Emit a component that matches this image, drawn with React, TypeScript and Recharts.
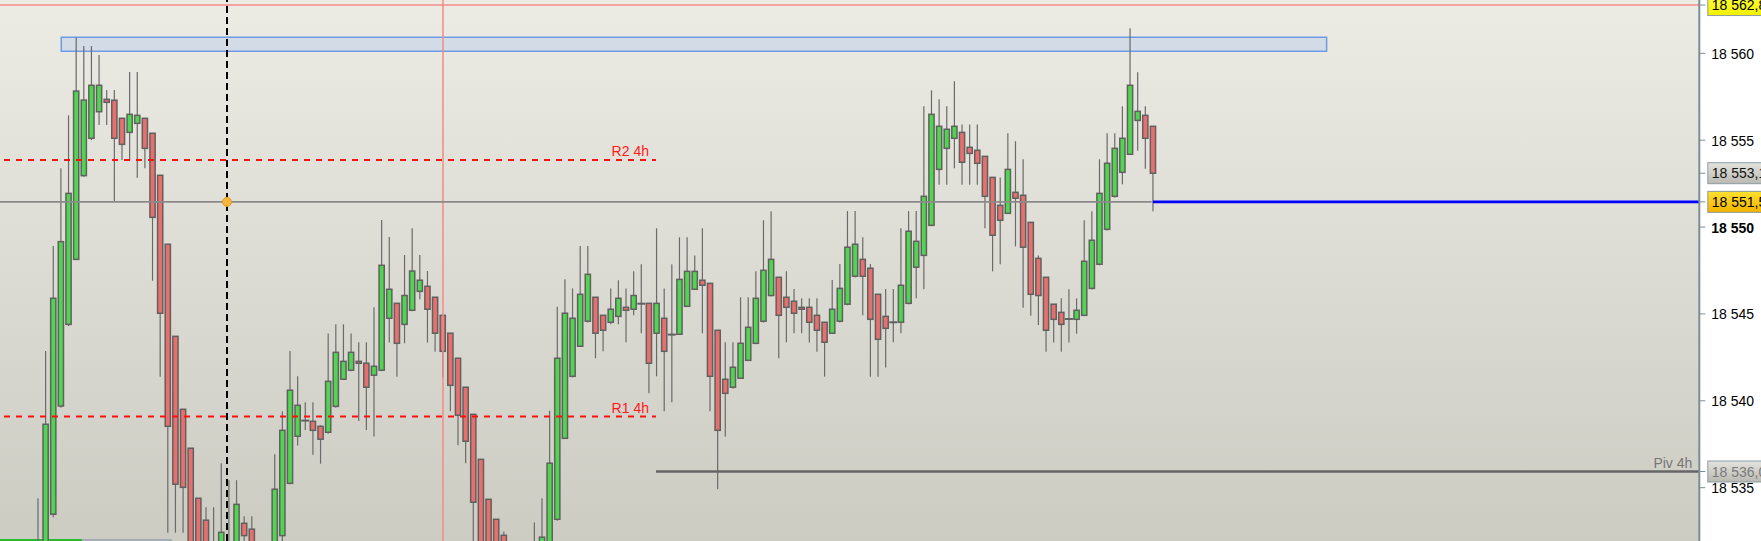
import React from 'react';
import { ComposedChart, Bar, XAxis, YAxis, ReferenceLine, ReferenceArea, ReferenceDot } from 'recharts';

const opens = [
    18529.8, 18530.5, 18533.47, 18539.7, 18544.4, 18548.14, 18552.96, 18555.11, 18556.64, 18557.35,
    18557.3, 18556.26, 18555.45, 18555.97, 18556.26, 18555.4, 18552.98, 18549.01, 18543.71, 18539.51,
    18537.27, 18534.39, 18533.13, 18530.5, 18530.0, 18531.5, 18530.5, 18532.95, 18532.61, 18531.0,
    18530.2, 18531.0, 18532.24, 18535.25, 18537.96, 18538.86, 18538.82, 18538.53, 18538.19, 18539.68,
    18541.24, 18541.76, 18542.27, 18542.16, 18541.47, 18541.76, 18544.75, 18545.61, 18544.4, 18545.21,
    18546.3, 18546.59, 18545.96, 18544.92, 18543.89, 18542.45, 18540.78, 18539.22, 18536.63, 18534.33,
    18533.18, 18532.26, 18531.0, 18529.5, 18528.5, 18529.5, 18530.0, 18531.0, 18533.18, 18537.84,
    18541.41, 18543.14, 18544.58, 18545.96, 18544.92, 18544.52, 18544.86, 18545.38, 18545.27, 18545.59,
    18545.61, 18543.89, 18544.75, 18543.81, 18543.83, 18545.44, 18546.42, 18546.94, 18546.76, 18544.06,
    18541.24, 18540.78, 18541.3, 18542.33, 18543.31, 18544.58, 18546.06, 18547.11, 18545.96, 18545.73,
    18545.38, 18545.38, 18544.92, 18544.52, 18543.89, 18544.58, 18545.56, 18547.17, 18548.14, 18547.63,
    18546.13, 18544.86, 18544.52, 18544.52, 18545.61, 18547.69, 18548.37, 18550.1, 18553.32, 18554.53,
    18555.11, 18555.45, 18554.59, 18554.42, 18554.07, 18552.86, 18551.25, 18550.79, 18552.0, 18551.83,
    18550.27, 18548.2, 18547.11, 18545.56, 18545.09, 18544.71, 18544.69, 18544.92, 18546.47, 18547.86,
    18549.87, 18551.77, 18553.15, 18554.19, 18556.14, 18556.43, 18555.8,
];

const highs = [
    18534.39, 18542.87, 18548.91, 18553.38, 18556.43, 18560.9, 18560.42, 18560.42, 18559.9, 18557.89,
    18557.89, 18556.26, 18558.92, 18558.92, 18556.26, 18555.4, 18552.98, 18549.01, 18543.71, 18539.51,
    18537.27, 18534.39, 18533.87, 18533.87, 18536.41, 18535.43, 18535.43, 18533.35, 18533.35, 18531.8,
    18531.6, 18536.93, 18539.4, 18542.87, 18541.41, 18539.91, 18539.91, 18538.59, 18543.88, 18544.4,
    18544.4, 18543.88, 18543.37, 18543.37, 18545.38, 18550.41, 18549.43, 18545.61, 18548.39, 18549.93,
    18548.39, 18547.47, 18545.96, 18544.92, 18543.89, 18542.45, 18540.78, 18539.22, 18536.63, 18534.33,
    18533.18, 18532.47, 18531.5, 18531.0, 18531.3, 18532.99, 18534.39, 18539.43, 18545.42, 18546.99,
    18546.47, 18548.91, 18548.91, 18545.96, 18544.92, 18546.47, 18546.94, 18546.47, 18547.45, 18547.86,
    18545.61, 18549.93, 18546.47, 18547.86, 18549.41, 18549.41, 18548.37, 18549.93, 18546.76, 18544.06,
    18543.37, 18543.37, 18545.96, 18545.96, 18547.45, 18550.39, 18550.91, 18547.11, 18547.45, 18546.44,
    18545.9, 18545.9, 18545.9, 18544.52, 18546.96, 18547.88, 18550.92, 18550.92, 18549.41, 18547.88,
    18546.13, 18546.44, 18546.44, 18549.93, 18550.92, 18550.92, 18556.95, 18557.87, 18557.35, 18556.95,
    18558.39, 18555.91, 18555.91, 18555.91, 18554.07, 18552.86, 18552.86, 18555.4, 18554.94, 18553.9,
    18550.27, 18548.37, 18547.11, 18545.56, 18545.9, 18546.42, 18545.9, 18550.39, 18550.91, 18553.9,
    18555.4, 18555.4, 18556.95, 18561.44, 18558.91, 18556.95, 18555.8,
];

const lows = [
    18529.0, 18530.0, 18533.3, 18539.6, 18544.3, 18548.1, 18552.9, 18555.0, 18555.87, 18555.87,
    18551.46, 18553.86, 18553.86, 18552.84, 18553.38, 18546.91, 18541.39, 18532.41, 18532.41, 18532.41,
    18529.5, 18529.0, 18529.0, 18528.5, 18529.5, 18529.5, 18530.0, 18531.0, 18530.0, 18529.5,
    18529.0, 18530.5, 18531.5, 18535.2, 18537.42, 18538.32, 18536.9, 18536.38, 18538.1, 18539.6,
    18541.2, 18541.7, 18538.84, 18538.32, 18537.94, 18541.7, 18543.35, 18541.39, 18543.31, 18545.15,
    18545.84, 18543.35, 18542.83, 18541.39, 18539.4, 18537.44, 18536.41, 18531.0, 18529.5, 18529.5,
    18529.0, 18528.5, 18528.0, 18527.5, 18527.5, 18528.5, 18529.5, 18530.5, 18533.1, 18537.8,
    18541.35, 18543.1, 18544.5, 18542.45, 18542.85, 18544.4, 18544.4, 18543.37, 18544.92, 18543.89,
    18540.43, 18541.41, 18539.4, 18539.91, 18543.8, 18545.4, 18546.4, 18543.89, 18539.4, 18534.91,
    18537.94, 18540.7, 18541.25, 18542.3, 18543.25, 18544.5, 18546.0, 18542.45, 18543.37, 18543.89,
    18543.89, 18543.35, 18542.83, 18541.39, 18543.85, 18544.5, 18545.5, 18547.1, 18544.92, 18541.39,
    18541.39, 18541.91, 18543.37, 18543.89, 18545.55, 18545.9, 18546.42, 18550.05, 18552.44, 18552.44,
    18553.38, 18552.44, 18552.44, 18552.44, 18549.93, 18547.45, 18547.86, 18550.75, 18548.89, 18545.36,
    18544.9, 18544.36, 18542.83, 18543.35, 18542.83, 18543.35, 18543.86, 18544.9, 18546.4, 18547.8,
    18549.8, 18551.7, 18552.46, 18554.15, 18554.39, 18553.36, 18550.91,
];

const closes = [
    18531.0, 18538.65, 18545.9, 18549.16, 18551.94, 18557.83, 18557.31, 18558.16, 18558.16, 18557.18,
    18555.11, 18554.76, 18556.49, 18556.43, 18554.53, 18550.56, 18545.04, 18538.53, 18535.2, 18535.02,
    18531.0, 18530.5, 18530.0, 18530.0, 18532.43, 18531.0, 18534.04, 18532.24, 18531.0, 18530.2,
    18531.0, 18534.91, 18538.3, 18540.61, 18539.74, 18538.86, 18538.3, 18537.79, 18541.12, 18542.79,
    18542.27, 18542.79, 18542.16, 18540.78, 18541.99, 18547.8, 18546.42, 18543.31, 18546.06, 18547.47,
    18546.94, 18545.27, 18543.89, 18542.85, 18540.89, 18539.17, 18537.67, 18534.16, 18531.0, 18531.2,
    18530.5, 18530.0, 18529.5, 18528.5, 18529.5, 18530.5, 18532.15, 18536.41, 18542.45, 18545.04,
    18544.75, 18546.13, 18547.28, 18543.89, 18544.06, 18545.27, 18545.9, 18545.21, 18546.06, 18545.59,
    18542.16, 18545.61, 18542.85, 18543.81, 18546.99, 18547.45, 18547.45, 18546.65, 18541.41, 18538.3,
    18540.43, 18541.93, 18543.31, 18544.23, 18545.9, 18547.51, 18548.14, 18544.92, 18545.38, 18545.04,
    18545.27, 18544.52, 18544.06, 18543.37, 18545.27, 18546.47, 18548.84, 18549.01, 18547.17, 18544.69,
    18543.54, 18544.17, 18544.52, 18546.65, 18549.76, 18549.18, 18551.77, 18556.49, 18555.8, 18555.63,
    18555.8, 18553.73, 18554.24, 18553.67, 18551.77, 18549.53, 18550.39, 18553.32, 18551.66, 18548.84,
    18546.13, 18546.06, 18544.06, 18544.69, 18544.4, 18544.71, 18545.21, 18548.03, 18549.24, 18551.94,
    18553.67, 18554.53, 18555.11, 18558.16, 18556.66, 18555.11, 18553.1,
];

// price levels
const topLine = 18562.78;
const zoneLow = 18560.12;
const zoneHigh = 18560.92;
const r2Level = 18553.86;
const r1Level = 18539.09;
const pivotLevel = 18535.93;
const lastClose = 18553.1;
const bidLevel = 18551.45;

const axisTicks = [18535, 18540, 18545, 18550, 18555, 18560];
const boxedTicks = [topLine, lastClose, bidLevel, pivotLevel];
const boxedText = ['18 562,8', '18 553,1', '18 551,5', '18 536,0'];

const UP = '#4fd64f';
const DOWN = '#e96f6d';
const EDGE = '#606060';
const WICK = '#6a6a6a';
const FONT = '"Liberation Sans", Arial, sans-serif';

// x positions in bar units (bar 0 = first visible candle)
const X_MIN = -5.015;
const X_MAX = 217.5;
const LEVEL_END = 80.88;
const CROSS_X = 24.71;
const RED_X = 52.99;

const candles = opens.map((o, i) => ({
    i,
    open: o,
    high: highs[i],
    low: lows[i],
    close: closes[i],
    range: [lows[i], highs[i]],
}));

const Candle = (props: any) => {
    const { x, y, width, height, payload } = props;
    const { open, high, low, close } = payload;
    const cx = x + width / 2;
    const k = high === low ? 0 : height / (high - low);
    const py = (v: number) => y + (high - v) * k;
    const top = py(Math.max(open, close));
    const bot = py(Math.min(open, close));
    const wick = <line x1={cx} x2={cx} y1={y} y2={y + height} stroke={WICK} strokeWidth={1.2} />;
    if (Math.abs(open - close) < 0.02) {
        return (
            <g>
                {wick}
                <line x1={cx - 4} x2={cx + 4} y1={top} y2={top} stroke={EDGE} strokeWidth={2} />
            </g>
        );
    }
    return (
        <g>
            {wick}
            <rect x={cx - 2.6} y={top} width={5.2} height={Math.max(bot - top, 1)}
                fill={close > open ? UP : DOWN} stroke={EDGE} strokeWidth={1.5} />
        </g>
    );
};

const boxFill = ['url(#boxYellow)', 'url(#boxGray)', 'url(#boxOrange)', 'url(#boxGray)'];
const boxTextColor = ['#000', '#111', '#000', '#7a7a7a'];

const fmt = (v: number) => `${Math.floor(v / 1000)} ${String(Math.round(v % 1000)).padStart(3, '0')}`;

const PriceTick = ({ x, y, payload }: any) => {
    const v = payload.value;
    const b = boxedTicks.indexOf(v);
    if (b >= 0) {
        return (
            <g>
                <rect x={x + 0.5} y={y - 10.5} width={70} height={21} fill={boxFill[b]} stroke="#8d9aa3" strokeWidth={1} />
                <text x={x + 4.5} y={y + 5} fontFamily={FONT} fontSize={14} fill={boxTextColor[b]}>{boxedText[b]}</text>
            </g>
        );
    }
    return (
        <text x={x + 4} y={y + 5.5} fontFamily={FONT} fontSize={14} fill="#000"
            fontWeight={v === 18550 ? 'bold' : 'normal'}>{fmt(v)}</text>
    );
};

const LevelLabel = ({ viewBox, text, color }: any) => {
    if (!viewBox) return null;
    return (
        <text x={viewBox.x + viewBox.width - 7} y={viewBox.y - 4} textAnchor="end"
            fontFamily={FONT} fontSize={14} fill={color}>{text}</text>
    );
};

export default function App() {
    return (
        <div style={{ position: 'absolute', left: 0, top: 0, width: 1761, height: 541, overflow: 'hidden', background: '#fff' }}>
            <div style={{ position: 'absolute', left: 0, top: 0, width: 1699.3, height: 541, background: 'linear-gradient(#ecebe4, #cdccc3)' }} />
            <div style={{ position: 'absolute', left: 0, top: 539, width: 82, height: 2, background: '#2cb82c' }} />
            <div style={{ position: 'absolute', left: 82, top: 539, width: 90, height: 2, background: '#a3adb3' }} />
            <div style={{ position: 'absolute', left: 0, top: 0 }}>
                <ComposedChart width={1761} height={541} data={candles} margin={{ top: 0, right: 0, bottom: 0, left: 0 }}>
                    <defs>
                        <linearGradient id="boxYellow" x1="0" y1="0" x2="0" y2="1">
                            <stop offset="0%" stopColor="#ffff40" />
                            <stop offset="100%" stopColor="#f2f000" />
                        </linearGradient>
                        <linearGradient id="boxOrange" x1="0" y1="0" x2="0" y2="1">
                            <stop offset="0%" stopColor="#ffe030" />
                            <stop offset="100%" stopColor="#f2b400" />
                        </linearGradient>
                        <linearGradient id="boxGray" x1="0" y1="0" x2="0" y2="1">
                            <stop offset="0%" stopColor="#e4e4de" />
                            <stop offset="100%" stopColor="#b9b9b2" />
                        </linearGradient>
                    </defs>
                    <XAxis type="number" dataKey="i" domain={[X_MIN, X_MAX]} allowDataOverflow hide />
                    <YAxis orientation="right" width={61.7} domain={[18531.93, 18563.07]} allowDataOverflow
                        ticks={[...axisTicks, ...boxedTicks]} interval={0} tickSize={6}
                        axisLine={{ stroke: '#7b8d99', strokeWidth: 2 }} tickLine={{ stroke: '#7b8d99' }}
                        tick={<PriceTick />} />
                    <ReferenceArea x1={3.01} x2={168.7} y1={zoneLow} y2={zoneHigh}
                        fill="#d2dbe6" fillOpacity={1} stroke="#6e9be6" strokeWidth={1.5} />
                    <ReferenceLine y={topLine} stroke="#f28b88" strokeWidth={1.5} />
                    <ReferenceLine x={RED_X} stroke="#f28b88" strokeWidth={1.5} />
                    <ReferenceLine segment={[{ x: X_MIN, y: bidLevel }, { x: 145.8, y: bidLevel }]} stroke="#8a8a8a" strokeWidth={1.8} />
                    <ReferenceLine segment={[{ x: 145.95, y: bidLevel }, { x: X_MAX, y: bidLevel }]} stroke="#0000ff" strokeWidth={2.7} />
                    <ReferenceLine segment={[{ x: -4.49, y: r2Level }, { x: LEVEL_END, y: r2Level }]} stroke="#ff1010"
                        strokeWidth={2} strokeDasharray="6 6" label={<LevelLabel text="R2 4h" color="#ff1a1a" />} />
                    <ReferenceLine segment={[{ x: -4.49, y: r1Level }, { x: LEVEL_END, y: r1Level }]} stroke="#ff1010"
                        strokeWidth={2} strokeDasharray="6 6" label={<LevelLabel text="R1 4h" color="#ff1a1a" />} />
                    <ReferenceLine segment={[{ x: LEVEL_END, y: pivotLevel }, { x: X_MAX, y: pivotLevel }]} stroke="#666"
                        strokeWidth={2.5} label={<LevelLabel text="Piv 4h" color="#767676" />} />
                    <Bar dataKey="range" barSize={5} shape={Candle} isAnimationActive={false} />
                    <ReferenceLine x={CROSS_X} stroke="#000" strokeWidth={2} strokeDasharray="7 4" />
                    <ReferenceDot x={CROSS_X} y={bidLevel} r={4.5} fill="#f6b63e" stroke="#e39a1c" strokeWidth={1} />
                </ComposedChart>
            </div>
        </div>
    );
}
